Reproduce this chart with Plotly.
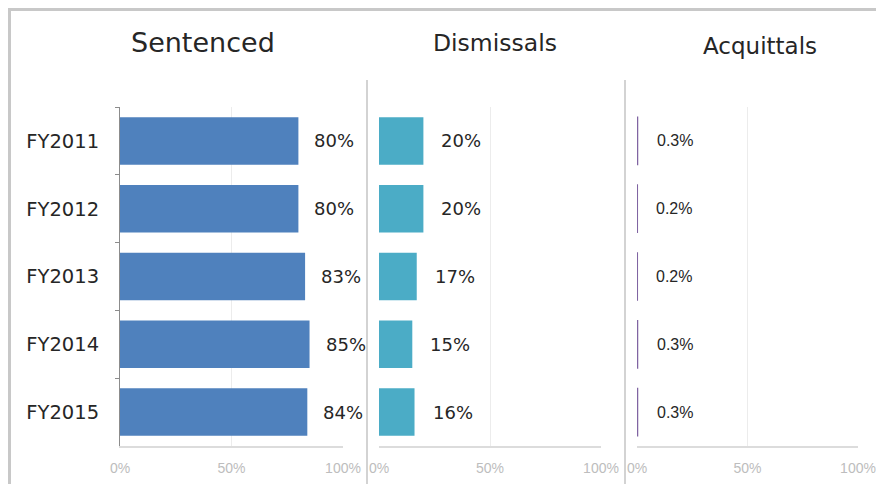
import plotly.graph_objs as go
from plotly.subplots import make_subplots

years = ["FY2011", "FY2012", "FY2013", "FY2014", "FY2015"]
sentenced = [0.80, 0.80, 0.83, 0.85, 0.84]
dismissals = [0.20, 0.20, 0.17, 0.15, 0.16]
acquittals = [0.003, 0.002, 0.002, 0.003, 0.003]
sentenced_lbl = ["80%", "80%", "83%", "85%", "84%"]
dismissals_lbl = ["20%", "20%", "17%", "15%", "16%"]
acquittals_lbl = ["0.3%", "0.2%", "0.2%", "0.3%", "0.3%"]
titles = ["Sentenced", "Dismissals", "Acquittals"]
tick_vals = [0, 0.5, 1.0]
tick_text = ["0%", "50%", "100%"]

# page has an 8px body margin at the top-left, so the figure is offset by it
W, H = 876, 476
OFF = 8  # reference pixel -> figure pixel

fig = make_subplots(rows=1, cols=3, shared_yaxes=True)

series = [
    (sentenced, sentenced_lbl, "#4f81bd", "DejaVu Sans", 18, 14),
    (dismissals, dismissals_lbl, "#4bacc6", "DejaVu Sans", 18, 16),
    (acquittals, acquittals_lbl, "#8064a2", "Liberation Sans", 16, 17),
]
# reference pixel positions of 0% and 100% for each panel
x_px = [(120, 343), (379, 601), (637, 858)]
y_top, y_bot = 107, 446
title_pos = [(203, 43, 27), (495, 43, 23.5), (760, 46, 23)]

def px(x):
    return (x - OFF) / W

def py(y):
    return 1 - (y - OFF) / H

for i, (vals, lbls, col, fam, fs, shift) in enumerate(series):
    c = i + 1
    fig.add_trace(go.Bar(x=vals, y=years, orientation="h", marker_color=col,
                         marker_line=dict(color=col, width=1.2 if i == 2 else 0),
                         width=0.7, showlegend=False, hoverinfo="x+y"), row=1, col=c)
    xa = "x" if i == 0 else "x%d" % c
    for v, t, yr in zip(vals, lbls, years):
        fig.add_annotation(x=v, y=yr, xref=xa, yref="y", text=t, showarrow=False,
                           xanchor="left", xshift=shift,
                           font=dict(family=fam, size=fs, color="#262626"))
    x0, x1 = x_px[i]
    fig.update_xaxes(range=[0, 1], domain=[px(x0), px(x1)], tickvals=tick_vals,
                     ticktext=tick_text,
                     tickfont=dict(size=14, color="#bdbdbd", family="Liberation Sans"),
                     ticklabelstandoff=8, automargin=False,
                     showgrid=True, gridcolor="#ececec", gridwidth=1,
                     showline=True, linecolor="#dcdcdc", linewidth=1.5,
                     zeroline=False, fixedrange=True, row=1, col=c)
    tx, ty, tsize = title_pos[i]
    fig.add_annotation(x=px(tx), y=py(ty), xref="paper", yref="paper", text=titles[i],
                       showarrow=False, xanchor="center", yanchor="middle",
                       font=dict(family="DejaVu Sans", size=tsize, color="#262626"))

fig.update_yaxes(autorange="reversed", domain=[py(y_bot), py(y_top)], automargin=False,
                 showgrid=False, zeroline=False, fixedrange=True)
fig.update_yaxes(showline=True, linecolor="#8c8c8c", linewidth=1, ticks="outside",
                 tickson="boundaries", ticklen=4, tickcolor="#8c8c8c",
                 tickfont=dict(family="DejaVu Sans", size=19.5, color="#262626"),
                 ticklabelstandoff=16, row=1, col=1)
fig.update_yaxes(showticklabels=False, row=1, col=2)
fig.update_yaxes(showticklabels=False, row=1, col=3)

# panel separators
for sx in [367, 625]:
    fig.add_shape(type="line", xref="paper", yref="paper", x0=px(sx), x1=px(sx),
                  y0=0, y1=py(80), line=dict(color="#c4c4c4", width=1.5))
# outer frame: only the left and top edges fall inside the picture
fig.add_shape(type="line", xref="paper", yref="paper", x0=1.5 / W, x1=1.5 / W,
              y0=0, y1=1, line=dict(color="#c8c8c8", width=3))
fig.add_shape(type="line", xref="paper", yref="paper", x0=0, x1=1,
              y0=1 - 1.5 / H, y1=1 - 1.5 / H, line=dict(color="#c8c8c8", width=3))

fig.update_layout(width=W, height=H, margin=dict(l=0, r=0, t=0, b=0, autoexpand=False),
                  plot_bgcolor="white", paper_bgcolor="white")

fig.write_html("out.html")
